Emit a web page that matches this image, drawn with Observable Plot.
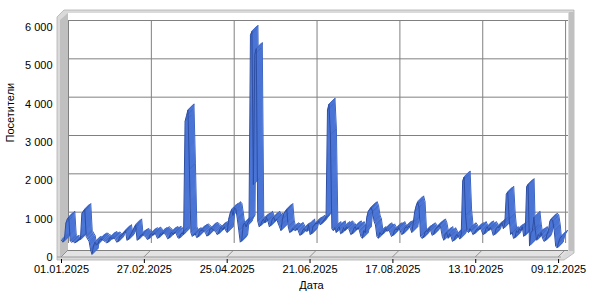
<!DOCTYPE html>
<html><head><meta charset="utf-8">
<script src="https://cdn.jsdelivr.net/npm/d3@7"></script>
<script src="https://cdn.jsdelivr.net/npm/@observablehq/plot@0.6"></script>
<style>body{margin:0;background:#fff}</style>
</head><body><div id="chart"></div>
<script>
// Daily visitors, 01.01.2025 – 11.12.2025, one array per month
const jan = [450,400,480,900,1000,1050,430,400,420,380,400,440,460,470,1150,1200,1250,550,480,420,200,80,300,400,330,350,450,480,470,440,420];
const feb = [380,400,500,520,480,510,470,400,420,540,560,600,650,700,450,470,560,620,700,780,850,450,480,560,580,600,560,540];
const mar = [470,490,600,620,580,640,590,500,520,620,600,650,610,580,490,510,630,650,600,660,620,520,500,600,640,600,3550,3700,3850,2300,650];
const apr = [550,600,620,520,540,680,700,720,680,650,560,580,720,760,740,700,680,600,620,750,780,720,800,700,650,1000,1150,1250,1100,1300];
const may = [1250,1000,700,400,450,850,900,800,900,950,5800,5900,1900,5300,5450,950,800,850,950,1000,900,1050,950,800,850,1000,1050,950,1000,900,800];
const jun = [700,1000,1150,1200,1250,800,650,680,750,720,700,760,690,580,600,720,750,700,680,850,600,620,800,850,900,880,950,850,900,950];
const jul = [1000,1050,3850,4000,3200,750,700,780,650,750,800,620,650,780,700,800,760,720,600,620,750,800,720,780,700,550,500,700,650,1050,1200];
const aug = [1250,1300,1200,950,850,550,500,650,600,620,700,750,680,720,650,550,580,700,750,720,780,700,600,620,750,800,780,820,760,650,900];
const sep = [1200,1350,1450,1300,550,500,520,650,700,680,750,700,580,600,720,780,800,850,750,550,450,600,650,500,620,550,420,450,550,600];
const oct = [550,480,600,2000,2100,1100,700,650,750,700,600,620,700,750,720,780,700,600,620,750,800,700,780,720,580,600,750,800,780,850,900];
const nov = [750,900,1650,1700,1000,600,650,500,520,700,650,750,700,800,550,600,1850,1900,300,650,700,1050,700,450,600,550,650,500,420,450];
const dec = [600,700,950,1000,950,700,300,250,400,500,550];

const startDate = "01.01.2025";
const xTickLabels = ["01.01.2025","27.02.2025","25.04.2025","21.06.2025","17.08.2025","13.10.2025","09.12.2025"];
const yTicks = [0,1000,2000,3000,4000,5000,6000];
const xTitle = "Дата";
const yTitle = "Посетители";

const parse = d3.utcParse("%d.%m.%Y");
const visits = [].concat(jan,feb,mar,apr,may,jun,jul,aug,sep,oct,nov,dec);
const t0 = parse(startDate);
const data = visits.map((v, i) => ({date: d3.utcDay.offset(t0, i), v}));
const tickDates = xTickLabels.map(parse);
const fmtY = d3.formatLocale({decimal: ",", thousands: " ", grouping: [3], currency: ["", ""]}).format(",");

const D = 7;          // 3D depth offset in px
const R = 6;          // ribbon depth in px
const depth = d3.range(R, -1, -1);
const font = "Liberation Sans, Arial, sans-serif";
const seam = {draw(ctx, l) { ctx.moveTo(0, 0); ctx.lineTo(0, -l); }};

const plot = Plot.plot({
  width: 600, height: 300,
  marginLeft: 61, marginRight: 39, marginTop: 27, marginBottom: 43,
  style: {fontFamily: font, fontSize: "11px", background: "white", color: "black", overflow: "visible"},
  x: {type: "utc", domain: [data[0].date, data[data.length - 1].date]},
  y: {domain: [0, 6000]},
  marks: [
    Plot.ruleY(yTicks, {dx: D, dy: -D, stroke: "#808080", strokeOpacity: 1}),
    Plot.ruleX(tickDates, {y1: 0, y2: 6000, dx: D, dy: -D, insetTop: -7, stroke: "#808080", strokeOpacity: 1}),
    ...depth.map(i => Plot.line(data, {
      x: "date", y: "v", dx: i, dy: -i,
      stroke: i === 0 ? "#2d4ea3" : (i === R ? "#3a60bd" : "#4a75d6"),
      strokeWidth: (i === 0 || i === R) ? 1 : 1.7,
      strokeLinejoin: "miter"
    })),
    Plot.vector(data, {x: "date", y: "v", length: R * Math.SQRT2, rotate: 45, anchor: "start",
      shape: seam, stroke: "#2f4f9e", strokeOpacity: 0.35, strokeWidth: 0.8}),
    Plot.axisY(yTicks, {tickFormat: fmtY, tickSize: 0, tickPadding: 5, dx: -4, label: null, fontSize: 11}),
    Plot.axisX(tickDates, {tickFormat: d3.utcFormat("%d.%m.%Y"), tickSize: 4, tickPadding: 2, dy: 2, label: null, fontSize: 11}),
    Plot.text([yTitle], {frameAnchor: "left", dx: -51, rotate: -90, fontSize: 11}),
    Plot.text([xTitle], {frameAnchor: "bottom", dy: 31, fontSize: 11})
  ]
});

// 3D box (walls and floor) placed with the plot's own scales
const xs = plot.scale("x"), ys = plot.scale("y");
const X0 = xs.apply(data[0].date), X1 = xs.apply(data[data.length - 1].date);
const Y0 = ys.apply(0), Y1 = ys.apply(6000);
const T = Y1 - 2 * D;
const svg = d3.select(plot);
const deco = svg.insert("g", "g");
const poly = (pts, fill, stroke) => deco.append("polygon")
  .attr("points", pts.map(p => p.join(",")).join(" "))
  .attr("fill", fill).attr("stroke", stroke || "none").attr("stroke-width", 0.8);
poly([[X0-4,Y0+3],[X1+3,Y0+3],[X1+D+6,Y0-4],[X1+D+6,T-3],[X0+3,T-3],[X0-4,T+4]], "#dadada", "#b0b0b0");
poly([[X0-1,Y0],[X0-1,T+D],[X0+D,T],[X0+D,Y0-D]], "#c0c0c0");
poly([[X1+D+1,T-1],[X1+D+6,T-1],[X1+D+6,Y0-D+1],[X1+D+1,Y0-D+1]], "#c0c0c0");
poly([[X0+D,T],[X1+D,T],[X1+D,Y0-D],[X0+D,Y0-D]], "#ffffff");
poly([[X0,Y0],[X0+D,Y0-D],[X1+D,Y0-D],[X1,Y0]], "#e3e3e3");
deco.append("line").attr("x1", X0-4).attr("x2", X1).attr("y1", Y0).attr("y2", Y0).attr("stroke", "#9a9a9a");
tickDates.forEach(t => {
  const x = xs.apply(t);
  deco.append("line").attr("x1", x).attr("y1", Y0).attr("x2", x + D).attr("y2", Y0 - D).attr("stroke", "#909090");
});

document.getElementById("chart").appendChild(plot);
</script>
</body></html>
